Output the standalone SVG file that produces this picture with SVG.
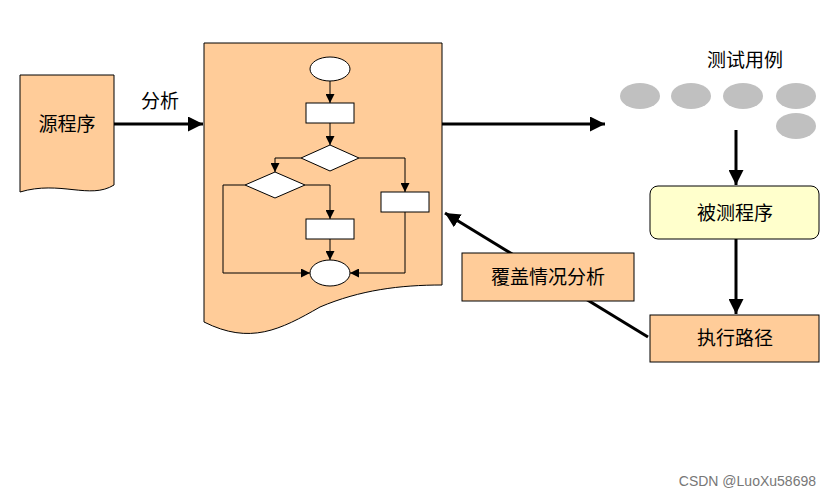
<svg xmlns="http://www.w3.org/2000/svg" width="831" height="497" viewBox="0 0 831 497">
<style>
.doc{fill:#FFCC99;stroke:#000;stroke-width:1}
.w{fill:#fff;stroke:#000;stroke-width:1}
.fl{fill:none;stroke:#000;stroke-width:1}
.big{fill:none;stroke:#000;stroke-width:3}
.t{font-family:"Noto Sans CJK SC",sans-serif;font-size:19px;fill:#000;text-anchor:middle}
.g{fill:#C0C0C0}
</style>
<defs>
<marker id="s" viewBox="0 0 10 10" refX="10" refY="5" markerWidth="9" markerHeight="9" markerUnits="userSpaceOnUse" orient="auto"><path d="M0,0L10,5L0,10z"/></marker>
<marker id="b" viewBox="0 0 10 10" refX="10" refY="5" markerWidth="5" markerHeight="5" orient="auto"><path d="M0,0L10,5L0,10z"/></marker>
</defs>
<g id="source"><path class="doc" d="M20,75H114V185C90,200 60,180 20,192Z"/><text class="t" x="67" y="131">源程序</text></g>
<g id="program">
<path class="doc" d="M204,43H442V285C400,285 360,290 320,307C280,330 250,345 204,322Z"/>
<ellipse class="w" cx="330" cy="69" rx="20" ry="12"/>
<rect class="w" x="306" y="103" width="48" height="20"/>
<path class="w" d="M301,158L330,145L359,158L330,171Z"/>
<path class="w" d="M245,185L275,172L305,185L275,198Z"/>
<rect class="w" x="381" y="192" width="48" height="20"/>
<rect class="w" x="306" y="219" width="48" height="20"/>
<ellipse class="w" cx="330" cy="273" rx="20" ry="13"/>
<path class="fl" marker-end="url(#s)" d="M330,81V103"/>
<path class="fl" marker-end="url(#s)" d="M330,123V145"/>
<path class="fl" marker-end="url(#s)" d="M301,158H275V172"/>
<path class="fl" marker-end="url(#s)" d="M359,158H405V192"/>
<path class="fl" marker-end="url(#s)" d="M305,185H330V219"/>
<path class="fl" marker-end="url(#s)" d="M330,239V260"/>
<path class="fl" marker-end="url(#s)" d="M245,185H223V273H310"/>
<path class="fl" marker-end="url(#s)" d="M405,212V273H350"/>
</g>
<g id="cases">
<text class="t" x="745" y="67">测试用例</text>
<ellipse class="g" cx="640" cy="96" rx="20" ry="13"/>
<ellipse class="g" cx="691" cy="96" rx="20" ry="13"/>
<ellipse class="g" cx="743" cy="96" rx="20" ry="13"/>
<ellipse class="g" cx="796" cy="96" rx="20" ry="13"/>
<ellipse class="g" cx="796" cy="126" rx="20" ry="13"/>
</g>
<g id="tested"><rect x="650" y="186" width="169" height="53" rx="8" fill="#FFFFCC" stroke="#000"/><text class="t" x="735" y="220">被测程序</text></g>
<g id="path"><rect class="doc" x="650" y="315" width="169" height="47"/><text class="t" x="735" y="345">执行路径</text></g>
<g id="connectors">
<path class="big" marker-end="url(#b)" d="M114,124H203"/>
<path class="big" marker-end="url(#b)" d="M442,124H605"/>
<path class="big" marker-end="url(#b)" d="M736,130V185"/>
<path class="big" marker-end="url(#b)" d="M736,239V314"/>
<path class="big" marker-end="url(#b)" d="M648,337L445,213"/>
</g>
<text class="t" x="160" y="108">分析</text>
<g id="coverage"><rect class="doc" x="462" y="253" width="172" height="48"/><text class="t" x="548" y="284">覆盖情况分析</text></g>
<text x="816" y="486" font-family="Liberation Sans, sans-serif" font-size="14" fill="#777" text-anchor="end">CSDN @LuoXu58698</text>
</svg>
